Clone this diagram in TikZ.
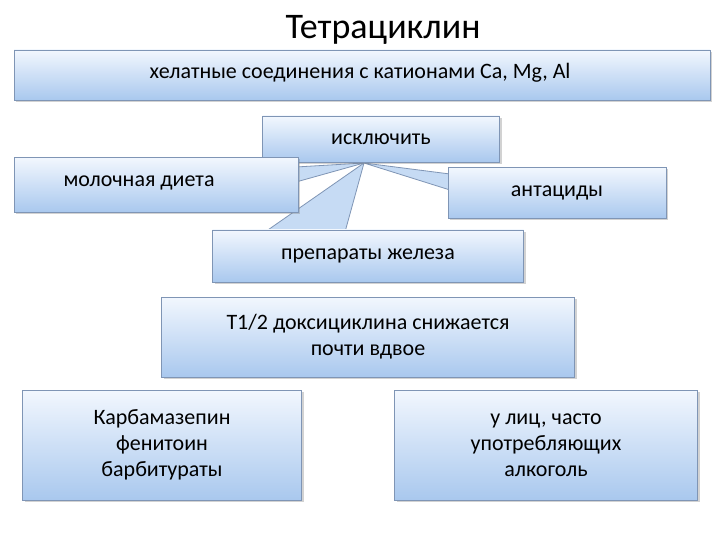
\documentclass[tikz,border=0pt]{standalone}
\usepackage{fontspec}
\setmainfont{Carlito}
\usetikzlibrary{calc,shadows}
\definecolor{btop}{HTML}{F2F7FE}
\definecolor{bbot}{HTML}{A9C8EE}
\definecolor{bline}{HTML}{7F95B5}
\tikzset{
 box/.style={draw=bline,line width=0.8pt,top color=btop,bottom color=bbot,
   font=\fontsize{22}{26}\selectfont,text=black,inner sep=0pt,
   drop shadow={shadow xshift=2pt,shadow yshift=-2pt,opacity=0.35}},
 wedge/.style={draw=bline,line width=0.8pt,fill=bbot!60!btop}
}
\begin{document}
\begin{tikzpicture}[x=1pt,y=-1pt]
\useasboundingbox[fill=white] (0,0) rectangle (720,540);
\node (title) at (383,30) {\fontsize{36}{40}\selectfont Тетрациклин};
\node[box,minimum width=696,minimum height=50] (hel) at (362,75) {};
\node (heltxt) at (360,73) {\fontsize{22}{26}\selectfont хелатные соединения с катионами Ca, Mg, Al};
\coordinate (tip) at (364,163);
\draw[wedge] (296,167) -- (tip) -- (296,182) -- cycle;
\draw[wedge] (450,174) -- (tip) -- (450,190) -- cycle;
\draw[wedge] (265,232) -- (tip) -- (345,232) -- cycle;
\node[box,minimum width=237,minimum height=46] (excl) at (381,139) {исключить};
\node[box,minimum width=284,minimum height=55,anchor=north west] (milk) at (14,157) {};
\node[anchor=west] (milktxt) at (60,183) {\fontsize{22}{26}\selectfont молочная диета};
\node[box,minimum width=218,minimum height=51] (ant) at (557,193) {антациды};
\node[box,minimum width=311,minimum height=52] (fe) at (368,256) {препараты железа};
\node[box,minimum width=413,minimum height=80,align=center] (doxy) at (368,337) {T1/2 доксициклина снижается\\почти вдвое};
\node[box,minimum width=279,minimum height=110,align=center] (carb) at (162,445) {Карбамазепин\\фенитоин\\барбитураты};
\node[box,minimum width=303,minimum height=110,align=center] (alc) at (546,445) {у лиц, часто\\употребляющих\\алкоголь};
\end{tikzpicture}
\end{document}
